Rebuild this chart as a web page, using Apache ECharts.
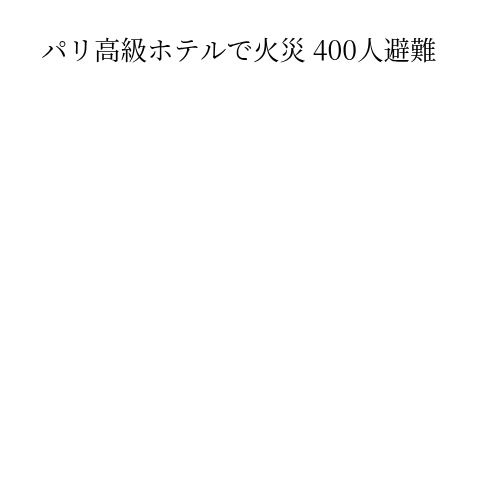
<!DOCTYPE html>
<html><head><meta charset="utf-8">
<script src="https://cdn.jsdelivr.net/npm/echarts@6/dist/echarts.min.js"></script>
<style>html,body{margin:0;padding:0;background:#fff}#c{width:500px;height:500px}</style>
</head><body><div id="c"></div>
<script>
const titleText = 'パリ高級ホテルで火災 400人避難';
const categories = [];
const values = [];
const chart = echarts.init(document.getElementById('c'));
chart.setOption({
  backgroundColor: '#fff',
  animation: false,
  title: {
    text: titleText,
    left: 36,
    top: 32,
    textStyle: { fontSize: 26.5, fontWeight: 'normal', color: '#000', fontFamily: '"Noto Serif CJK JP", "Noto Sans CJK JP", serif' }
  },
  xAxis: { show: false, type: 'category', data: categories },
  yAxis: { show: false, type: 'value' },
  series: [{ type: 'bar', data: values }]
});
</script></body></html>
